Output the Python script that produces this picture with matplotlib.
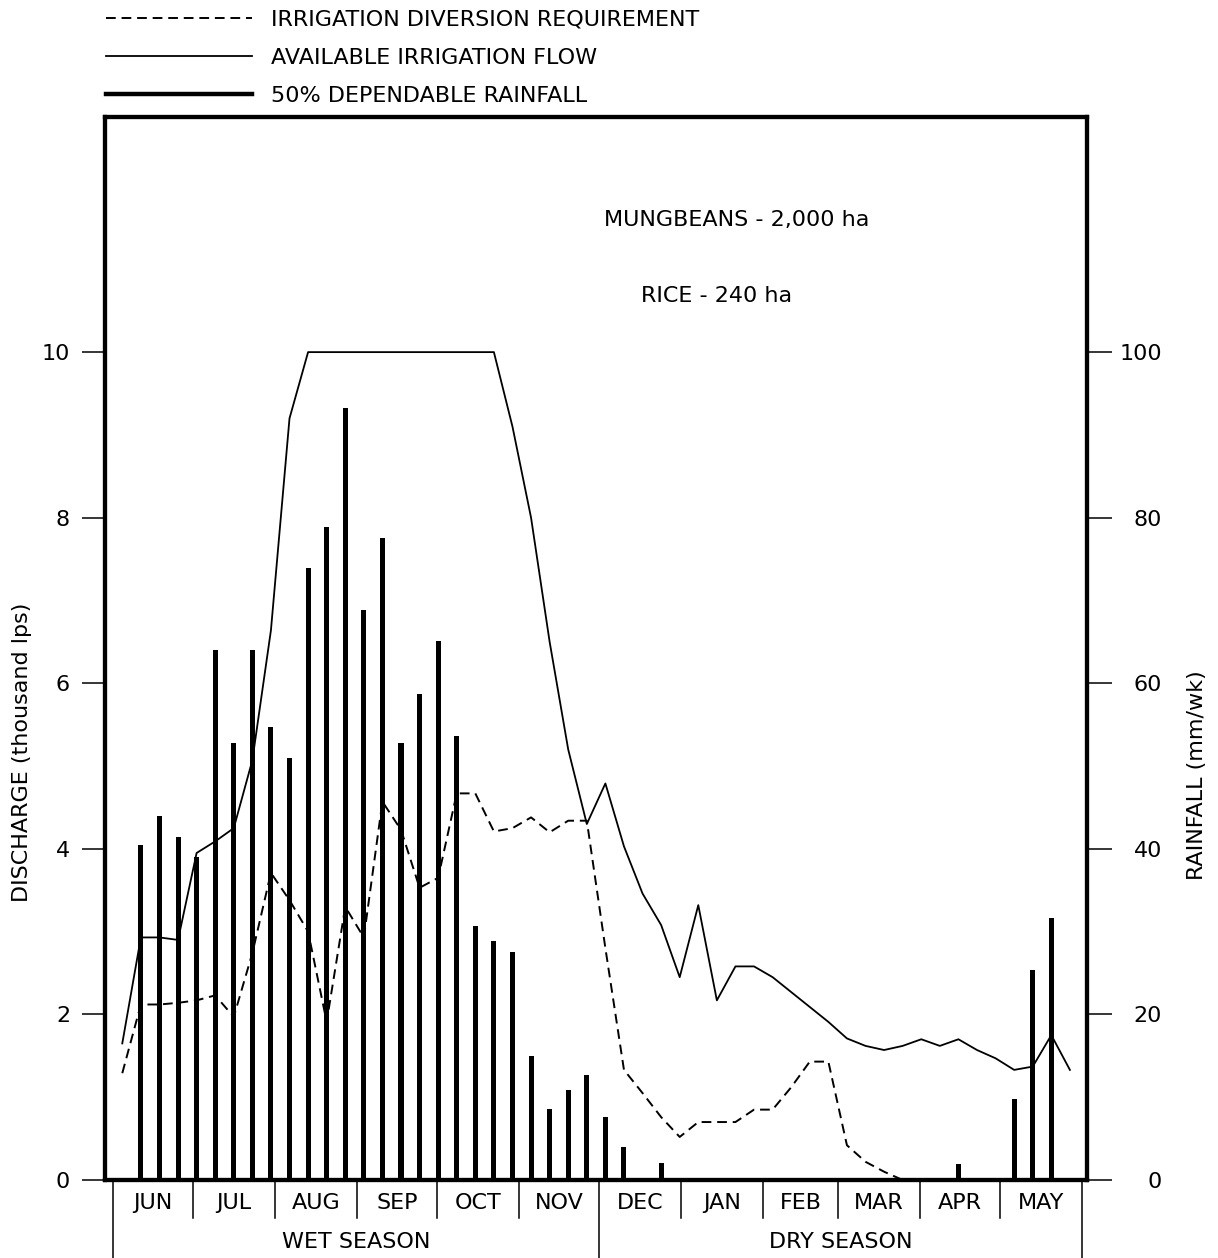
import matplotlib
matplotlib.use("Agg")
import matplotlib.pyplot as plt
from matplotlib import font_manager
from matplotlib.lines import Line2D
import numpy as np

# weekly values, June week 1 .. May week 4
rain = [0, 40.5, 44, 41.4, 39, 64, 52.8, 64, 54.7, 51,
        73.9, 78.9, 93.2, 68.8, 77.5, 52.8, 58.7, 65.1, 53.6, 30.7,
        28.9, 27.5, 15, 8.6, 10.9, 12.7, 7.6, 4, 0, 2.1,
        0, 0, 0, 0, 0, 0, 0, 0, 0, 0,
        0, 0, 0, 0, 0, 1.9, 0, 0, 9.8, 25.4,
        31.6, 0]
available = [1.65, 2.93, 2.93, 2.90, 3.95, 4.09, 4.25, 5.07, 6.64, 9.2,
             10, 10, 10, 10, 10, 10, 10, 10, 10, 10,
             10, 9.1, 8.0, 6.5, 5.2, 4.3, 4.79, 4.03, 3.46, 3.08,
             2.45, 3.32, 2.17, 2.58, 2.58, 2.45, 2.27, 2.09, 1.91, 1.71,
             1.62, 1.57, 1.62, 1.70, 1.62, 1.70, 1.57, 1.47, 1.33, 1.37,
             1.75, 1.33]
diversion = [1.29, 2.12, 2.12, 2.14, 2.17, 2.23, 1.97, 2.74, 3.71, 3.38,
             3.0, 1.91, 3.3, 2.93, 4.57, 4.23, 3.53, 3.65, 4.67, 4.67,
             4.21, 4.25, 4.38, 4.2, 4.34, 4.34, 2.8, 1.33, 1.05, 0.76,
             0.52, 0.70, 0.70, 0.70, 0.85, 0.85, 1.12, 1.43, 1.43, 0.42,
             0.22, 0.1, 0.0]
months = ["JUN", "JUL", "AUG", "SEP", "OCT", "NOV",
          "DEC", "JAN", "FEB", "MAR", "APR", "MAY"]
month_days = [30, 31, 31, 30, 31, 30, 31, 31, 28, 31, 30, 31]
seasons = ["WET SEASON", "DRY SEASON"]
left_ticks = [0, 2, 4, 6, 8, 10]
right_ticks = [0, 20, 40, 60, 80, 100]

names = {f.name for f in font_manager.fontManager.ttflist}
if "Liberation Sans Narrow" in names:
    FONT, FS, LS = "Liberation Sans Narrow", 19.5, 0.5
else:
    FONT, FS, LS = "DejaVu Sans", 16, 0.8
plt.rcParams["font.family"] = FONT

W, H = 1218, 1258
fig = plt.figure(figsize=(W / 100, H / 100), dpi=100)
ax = fig.add_axes([105 / W, 1 - 1180 / H, (1087 - 105) / W, (1180 - 117) / H])
ax2 = ax.twinx()

weeks = np.arange(len(rain)) + 0.5
edges = np.concatenate([[0], np.cumsum(month_days) / 7])

ax2.bar(weeks, rain, width=0.27, color="black", linewidth=0)
l_av, = ax.plot(weeks, available, color="black", lw=1.3)
l_div, = ax.plot(weeks[:len(diversion)], diversion, color="black", lw=1.4,
                 ls=(0, (5, 3)))

ax.set_xlim(-0.43, 52.42)
ax.set_ylim(0, 12.84)
ax2.set_ylim(0, 128.4)

ax.set_yticks(left_ticks, [str(t) for t in left_ticks])
ax2.set_yticks(right_ticks, [str(t) for t in right_ticks])
ax.tick_params(axis="y", direction="out", length=16.5, width=1.1, pad=8.7,
               labelsize=FS)
ax2.tick_params(axis="y", direction="out", length=18, width=1.1, pad=36,
                labelsize=FS)
plt.setp(ax2.get_yticklabels(), ha="right")
ax.tick_params(axis="x", bottom=False, labelbottom=False)
ax2.tick_params(axis="x", bottom=False, labelbottom=False)
for a in (ax, ax2):
    for s in a.spines.values():
        s.set_linewidth(3)

# month boxes under the axis
tr = ax.get_xaxis_transform()
for i, e in enumerate(edges):
    low = -0.0734 if i in (0, 6, 12) else -0.0357
    ax.plot([e, e], [0, low], transform=tr, color="black", lw=1.1,
            clip_on=False)
for i, m in enumerate(months):
    ax.text((edges[i] + edges[i + 1]) / 2, -0.0216, m, transform=tr,
            ha="center", va="center", fontsize=FS)
ax.text((edges[0] + edges[6]) / 2, -0.0583, seasons[0], transform=tr,
        ha="center", va="center", fontsize=FS)
ax.text((edges[6] + edges[12]) / 2, -0.0583, seasons[1], transform=tr,
        ha="center", va="center", fontsize=FS)

ax.text(0.6436, 0.903, "MUNGBEANS - 2,000 ha", transform=ax.transAxes,
        ha="center", va="center", fontsize=FS)
ax.text(0.623, 0.8316, "RICE - 240 ha", transform=ax.transAxes,
        ha="center", va="center", fontsize=FS)

fig.text(22 / W, 1 - 752 / H, "DISCHARGE (thousand lps)", rotation=90,
         ha="center", va="center", fontsize=FS)
fig.text(1197 / W, 1 - 775 / H, "RAINFALL (mm/wk)", rotation=90,
         ha="center", va="center", fontsize=FS)

fs_px = FS * 100 / 72
rain_handle = Line2D([], [], color="black", lw=3.2)
fig.legend([l_div, l_av, rain_handle],
           ["IRRIGATION DIVERSION REQUIREMENT", "AVAILABLE IRRIGATION FLOW",
            "50% DEPENDABLE RAINFALL"],
           loc="upper left", bbox_to_anchor=(106 / W, 1 - 10 / H),
           frameon=False, borderpad=0, borderaxespad=0,
           handlelength=146 / fs_px, handletextpad=19 / fs_px,
           labelspacing=LS, fontsize=FS)

fig.savefig("out.png", dpi=100)
